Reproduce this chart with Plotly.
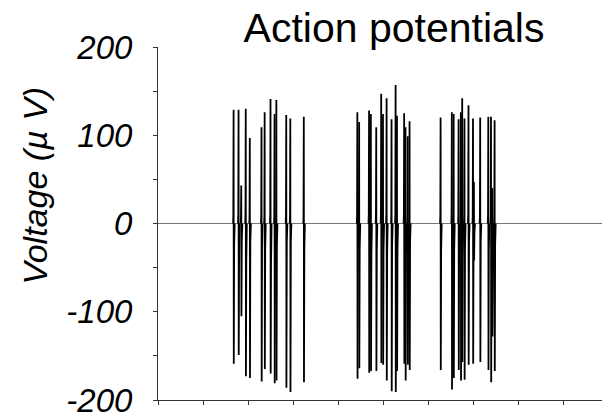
import plotly.graph_objects as go

# Spike times (s), peak and trough amplitudes (µV) and the small after-deflection of each spike
spike_t = [1.68, 1.79, 1.85, 1.95, 2.04, 2.30, 2.37, 2.50, 2.59, 2.63, 2.85, 2.94, 3.24,
           4.43, 4.47, 4.69, 4.73, 4.85, 4.96, 5.00, 5.08, 5.19, 5.28, 5.31, 5.47, 5.50, 5.55, 5.59,
           6.28, 6.53, 6.57, 6.68, 6.73, 6.76, 6.81, 6.90, 7.00, 7.02, 7.16, 7.34, 7.40, 7.43, 7.48]
spike_peak = [129, 129, 43, 130, 97, 109, 126, 141, 124, 140, 123, 119, 121,
              126, 115, 128, 124, 109, 147, 124, 142, 118, 157, 122, 125, 109, 99, 116,
              120, 126, 124, 118, 126, 142, 119, 134, 119, 47, 120, 121, 121, 39, 117]
spike_trough = [-159, -149, -105, -173, -175, -179, -165, -170, -181, -178, -186, -191, -180,
                -176, -164, -169, -167, -167, -158, -160, -178, -190, -191, -167, -159, -178, -160, -166,
                -166, -188, -175, -166, -178, -157, -177, -160, -159, -42, -157, -166, -180, -128, -167]
spike_pre = [9, 10, 8, 12, 7, 10, 9, 11, 8, 10, 12, 9, 8,
             10, 9, 11, 8, 12, 10, 9, 11, 8, 10, 12, 9, 11, 8, 10,
             9, 11, 10, 8, 12, 10, 9, 11, 8, 6, 10, 9, 12, 40, 10]
spike_after = [-25, -42, -20, -45, -20, -28, -30, -45, -40, -25, -22, -20, -28,
               -35, -30, -40, -35, -30, -20, -30, -35, -25, -40, -30, -30, -35, -25, -20,
               -32, -35, -30, -25, -45, -40, -30, -20, -25, -10, -20, -30, -35, -60, -25]

y_ticks = [-200, -150, -100, -50, 0, 50, 100, 150, 200]
y_tick_text = ["-200", "", "-100", "", "0", "", "100", "", "200"]
x_ticks = [0, 1, 2, 3, 4, 5, 6, 7, 8, 9]

# Build the trace as separate spike waveforms joined by gaps
dt = 0.012
xs, ys = [], []
for t, pk, tr, pre, aft in zip(spike_t, spike_peak, spike_trough, spike_pre, spike_after):
    xs += [t - dt, t - dt / 2, t, t + dt / 3, t + dt, t + 2 * dt, None]
    ys += [0, pre, pk, tr, aft, 0, None]

FONT = "Liberation Sans, Arial, Helvetica, sans-serif"

fig = go.Figure()
fig.add_trace(go.Scatter(
    x=xs, y=ys, mode="lines",
    line=dict(color="black", width=1.8),
    connectgaps=False, hoverinfo="skip", showlegend=False,
))

fig.update_layout(
    width=602, height=419,
    margin=dict(l=158, r=0, t=47, b=17),
    paper_bgcolor="white", plot_bgcolor="white",
    font=dict(family=FONT, color="black"),
    title=dict(
        text="Action potentials",
        font=dict(family=FONT, size=41, color="black"),
        xref="container", x=394 / 602, xanchor="center",
        yref="container", y=1 - 28 / 419, yanchor="middle",
    ),
    xaxis=dict(
        range=[0, 444 / 45], tickvals=x_ticks, showticklabels=False,
        ticks="outside", ticklen=4, tickcolor="#333",
        showline=True, linecolor="#333", linewidth=1,
        showgrid=False, zeroline=False,
    ),
    yaxis=dict(
        range=[-200, 200], tickvals=y_ticks, ticktext=y_tick_text,
        ticks="outside", ticklen=4, tickcolor="#333",
        tickfont=dict(family=FONT, size=33, style="italic", color="black"),
        ticklabelstandoff=14, ticklabeloverflow="allow",
        showline=True, linecolor="#333", linewidth=1,
        showgrid=False,
        zeroline=True, zerolinecolor="#777", zerolinewidth=1,
    ),
)

fig.add_annotation(
    text="Voltage (µ V)", textangle=-90,
    xref="paper", yref="paper",
    x=(35 - 158) / 444, y=(402 - 186.5) / 355,
    xanchor="center", yanchor="middle", showarrow=False,
    font=dict(family=FONT, size=34, style="italic", color="black"),
)

fig.write_html("out.html")
